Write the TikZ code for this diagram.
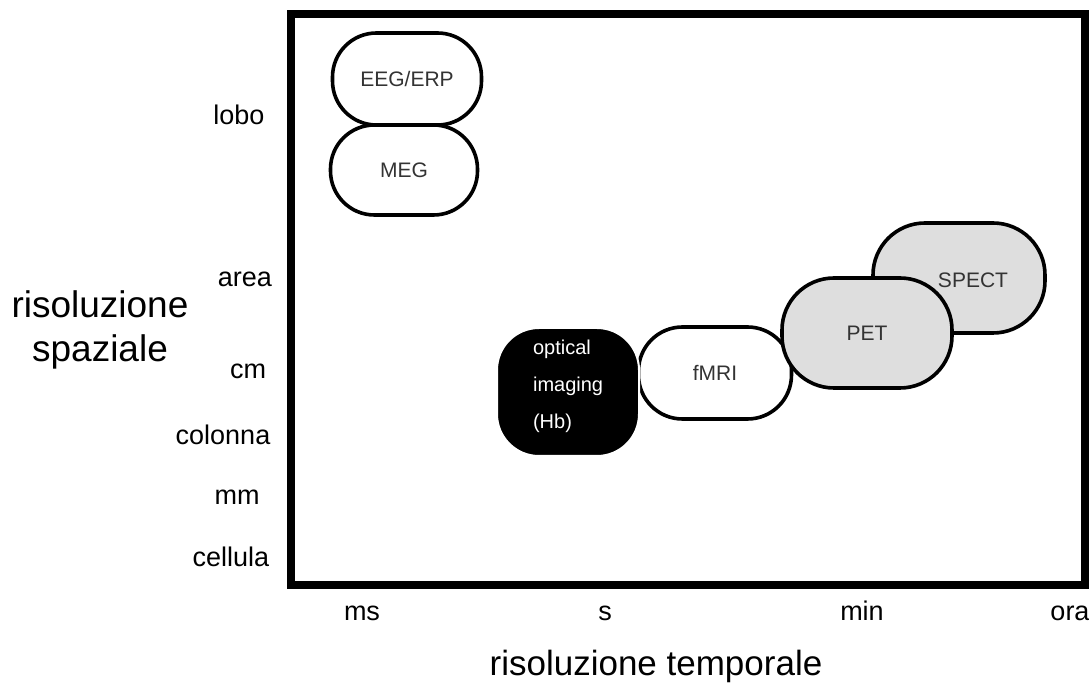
\documentclass[tikz,border=0pt]{standalone}
\usepackage{fontspec}
\setmainfont{Liberation Sans}
\definecolor{boxgray}{gray}{0.87}
\definecolor{txtgray}{gray}{0.2}
\tikzset{
  method/.style={draw, line width=1.8pt, rounded corners=22pt, inner sep=0pt,
    fill=white, text=txtgray, font=\fontsize{10.5}{12}\selectfont},
  scalelab/.style={font=\fontsize{13.5}{15}\selectfont, text height=1.5ex, text depth=0.25ex},
  axislab/.style={font=\fontsize{18.5}{22}\selectfont, align=center}
}
\begin{document}
\begin{tikzpicture}[x=0.5pt, y=-0.5pt]
  \useasboundingbox (0, 0) rectangle (1089, 689);
  \draw[line width=4pt] (291, 14) rectangle (1085, 585);

  % methods
  \node[method, minimum width=74.5pt, minimum height=46pt] (eeg) at (407, 79) {EEG/ERP};
  \node[method, minimum width=73.5pt, minimum height=45pt] (meg) at (404, 170) {MEG};
  \node[method, minimum width=76.5pt, minimum height=46pt] (fmri) at (715, 373) {fMRI};
  \node[method, fill=boxgray, rounded corners=26pt, minimum width=86pt, minimum height=55pt] (spect) at (959, 278) {};
  \node[text=txtgray, font=\fontsize{10.5}{12}\selectfont] (spectlab) at (973, 280) {SPECT};
  \node[method, fill=boxgray, rounded corners=26pt, minimum width=85pt, minimum height=55pt] (pet) at (867, 333) {PET};
  \node[method, fill=black, draw=white, line width=1pt, rounded corners=21pt, minimum width=71pt, minimum height=64pt] (optical) at (568, 392) {};
  \node[text=white, font=\fontsize{10}{18.5}\selectfont, align=left, anchor=west] (opticallab) at (526, 386) {optical\\imaging\\(Hb)};

  % spatial scale
  \node[scalelab] (lobo) at (239, 118) {lobo};
  \node[scalelab] (area) at (245, 280) {area};
  \node[scalelab] (cm) at (248, 372) {cm};
  \node[scalelab] (colonna) at (223, 438) {colonna};
  \node[scalelab] (mm) at (237, 498) {mm};
  \node[scalelab] (cellula) at (231, 560) {cellula};
  \node[axislab] (spaziale) at (100, 330) {risoluzione\\spaziale};

  % temporal scale
  \node[scalelab] (ms) at (362, 614) {ms};
  \node[scalelab] (sec) at (605, 614) {s};
  \node[scalelab] (min) at (862, 614) {min};
  \node[scalelab] (ora) at (1070, 614) {ora};
  \node[axislab, font=\fontsize{17.5}{22}\selectfont] (temporale) at (656, 666) {risoluzione temporale};
\end{tikzpicture}
\end{document}
